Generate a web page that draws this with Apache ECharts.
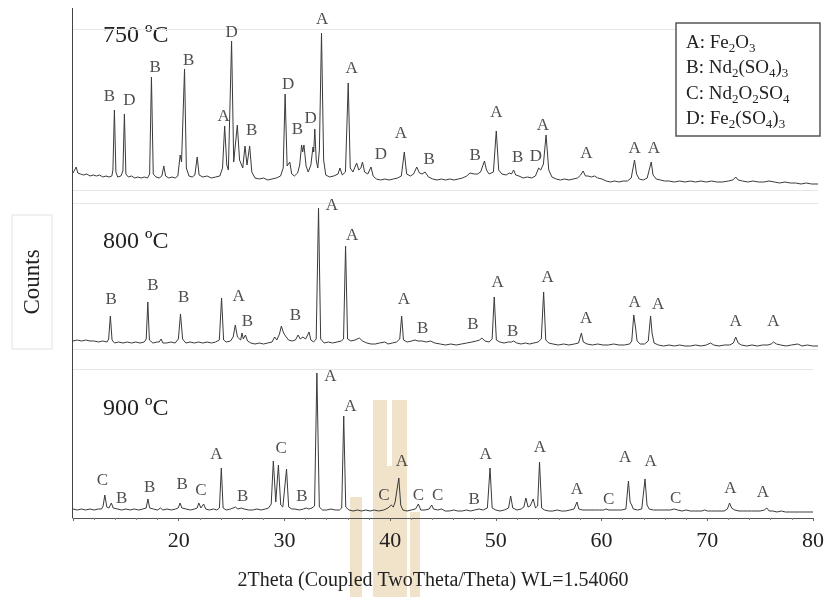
<!DOCTYPE html>
<html>
<head>
<meta charset="utf-8">
<script src="https://cdn.jsdelivr.net/npm/echarts@6/dist/echarts.min.js"></script>
<style>html,body{margin:0;padding:0;background:#fff}#xrd{width:827px;height:597px}</style>
</head>
<body>
<div id="xrd"></div>
<script>
// XRD patterns, [2theta, counts above panel floor]
const p750 = [[10.0,17],[10.15,16],[10.3,23],[10.45,17],[10.7,16],[11.0,15],[11.3,16],[11.6,14],[11.9,15],[12.2,14],[12.5,15],[12.8,13],[13.1,14],[13.4,13],[13.65,14],
[13.75,20],[13.89,80],[14.03,18],[14.2,13],[14.5,14],[14.69,19],[14.83,76],[14.97,16],[15.2,13],[15.5,14],[15.8,12],[16.1,13],[16.4,12],[16.7,13],[17.0,12],[17.2,16],[17.37,113],[17.54,16],[17.8,13],[18.1,12],[18.35,14],[18.53,24],[18.7,14],[19.0,12],[19.3,13],[19.6,12],[19.85,14],[20.07,35],[20.2,28],[20.48,121],[20.65,22],[20.9,14],[21.2,13],[21.45,15],[21.67,33],[21.85,15],[22.2,13],[22.6,14],[23.0,12],[23.4,13],[23.8,14],[24.05,22],[24.25,64],[24.45,25],[24.6,20],[24.9,149],[25.1,28],[25.2,30],[25.44,65],[25.65,30],[25.8,26],[25.95,22],[26.16,44],[26.35,25],[26.6,44],[26.8,18],[27.1,12],[27.5,11],[27.9,12],[28.3,10],[28.7,11],[29.1,12],[29.5,14],[29.75,22],[29.93,96],[30.12,24],[30.37,28],[30.55,16],[30.8,14],[31.1,17],[31.3,25],[31.48,45],[31.58,38],[31.7,45],[31.9,24],[32.1,18],[32.35,25],[32.55,43],[32.62,38],[32.72,61],[32.85,30],[33.0,22],[33.15,40],[33.35,157],[33.55,30],[33.75,15],[34.1,13],[34.5,14],[34.9,16],[35.08,22],[35.3,15],[35.6,18],[35.86,107],[36.05,22],[36.3,18],[36.65,27],[36.85,20],[37.05,22],[37.2,28],[37.4,18],[37.7,16],[38.0,23],[38.2,14],[38.5,11],[38.9,10],[39.3,11],[39.7,10],[40.1,11],[40.5,12],[40.85,14],[41.13,38],[41.35,16],[41.7,14],[42.0,16],[42.3,23],[42.55,17],[42.8,16],[43.08,18],[43.4,13],[43.8,11],[44.2,10],[44.6,11],[45.0,10],[45.4,11],[45.8,10],[46.2,11],[46.6,12],[47.0,14],[47.3,17],[47.48,19],[47.7,16],[48.0,16],[48.3,18],[48.66,29],[48.85,20],[49.1,16],[49.5,18],[49.77,59],[50.0,20],[50.3,16],[50.7,15],[51.0,17],[51.2,16],[51.4,20],[51.6,15],[51.9,14],[52.3,12],[52.7,13],[53.1,12],[53.45,14],[53.75,22],[53.95,20],[54.2,26],[54.45,55],[54.7,20],[55.0,13],[55.4,11],[55.8,10],[56.2,11],[56.6,10],[57.0,11],[57.4,12],[57.7,15],[57.93,19],[58.15,14],[58.4,14],[58.7,13],[59.0,14],[59.3,12],[59.7,11],[60.1,9],[60.5,8],[60.9,9],[61.3,8],[61.7,9],[62.1,9],[62.45,12],[62.76,30],[62.95,16],[63.2,11],[63.6,10],[63.95,12],[64.33,28],[64.5,15],[64.8,11],[65.2,10],[65.6,9],[66.0,9],[66.5,8],[67.0,9],[67.5,8],[68.0,9],[68.5,8],[69.0,9],[69.5,8],[70.0,9],[70.5,8],[71.0,8],[71.6,9],[72.0,10],[72.27,13],[72.5,10],[72.9,9],[73.4,8],[73.9,9],[74.4,8],[74.9,8],[75.4,9],[75.9,8],[76.4,7],[76.9,8],[77.4,7],[77.9,7],[78.4,6],[78.9,7],[79.4,6],[80.0,6]];

const p800 = [[10.0,8],[10.4,9],[10.8,8],[11.2,9],[11.6,8],[12.0,8],[12.4,7],[12.8,8],[12.95,9],[13.2,7],[13.35,10],[13.51,33],[13.67,9],[13.9,6],[14.3,7],[14.7,6],[15.1,7],[15.5,6],[15.9,7],[16.3,6],[16.7,7],[16.88,10],[17.03,47],[17.18,9],[17.5,6],[17.9,7],[18.1,7],[18.28,10],[18.45,6],[18.8,6],[19.2,7],[19.6,6],[19.9,10],[20.1,35],[20.3,10],[20.6,6],[21.0,7],[21.4,6],[21.8,7],[22.2,6],[22.6,7],[23.0,6],[23.4,7],[23.75,9],[23.96,51],[24.15,9],[24.4,7],[24.8,8],[25.05,12],[25.25,24],[25.45,12],[25.6,10],[25.75,9],[25.88,16],[26.0,10],[26.2,14],[26.4,8],[26.7,6],[27.1,5],[27.5,6],[27.9,5],[28.3,6],[28.7,7],[28.95,12],[29.15,9],[29.4,15],[29.58,23],[29.75,17],[29.9,14],[30.05,12],[30.25,9],[30.6,8],[30.9,9],[31.15,14],[31.35,10],[31.6,12],[31.85,10],[32.0,13],[32.18,17],[32.35,9],[32.6,7],[32.85,10],[33.07,141],[33.27,10],[33.6,6],[34.0,7],[34.4,6],[34.8,7],[35.2,8],[35.42,10],[35.61,103],[35.8,10],[36.1,8],[36.5,9],[36.9,11],[37.2,8],[37.6,6],[38.0,5],[38.4,5],[38.8,6],[39.3,7],[39.6,5],[40.0,6],[40.4,7],[40.7,10],[40.88,33],[41.05,9],[41.4,7],[41.8,8],[42.14,9],[42.4,8],[42.8,8],[43.2,7],[43.6,8],[44.0,6],[44.5,5],[45.0,4],[45.5,5],[46.0,4],[46.5,5],[47.0,6],[47.48,7],[47.9,8],[48.2,9],[48.42,11],[48.7,8],[49.1,7],[49.38,10],[49.58,52],[49.78,9],[50.1,7],[50.5,6],[50.9,7],[51.2,7],[51.4,8],[51.7,6],[52.1,5],[52.5,6],[52.9,5],[53.3,6],[53.7,7],[54.0,10],[54.22,57],[54.42,9],[54.7,6],[55.1,5],[55.6,4],[56.1,5],[56.6,4],[57.1,5],[57.5,6],[57.77,16],[57.95,7],[58.3,5],[58.8,4],[59.3,5],[59.8,4],[60.3,4],[60.8,5],[61.3,4],[61.8,4],[62.3,5],[62.5,8],[62.69,34],[62.85,22],[63.0,8],[63.3,5],[63.7,5],[64.05,8],[64.27,33],[64.42,15],[64.6,6],[65.0,4],[65.5,3],[66.0,4],[66.5,3],[67.0,4],[67.5,3],[68.0,3],[68.5,4],[69.0,3],[69.5,4],[69.9,6],[70.2,4],[70.7,3],[71.2,4],[71.7,4],[72.05,6],[72.27,12],[72.5,6],[72.8,4],[73.3,3],[73.8,4],[74.3,3],[74.8,4],[75.3,4],[75.6,5],[75.82,7],[76.1,5],[76.5,4],[77.0,3],[77.5,4],[78.1,5],[78.5,3],[79.0,4],[79.5,3],[80.0,3]];

const p900 = [[10.0,9],[10.4,8],[10.8,9],[11.2,8],[11.6,9],[12.0,8],[12.4,9],[12.7,9],[12.85,12],[13.01,23],[13.2,11],[13.4,10],[13.63,15],[13.8,10],[14.2,9],[14.6,8],[15.0,9],[15.4,8],[15.8,9],[16.2,8],[16.6,9],[16.92,10],[17.09,19],[17.25,10],[17.6,9],[18.0,8],[18.28,10],[18.5,8],[18.9,9],[19.3,8],[19.7,9],[19.95,10],[20.13,15],[20.3,10],[20.7,9],[21.1,8],[21.5,9],[21.75,10],[21.9,15],[22.1,10],[22.36,14],[22.55,9],[22.9,8],[23.3,9],[23.6,8],[23.85,10],[24.03,50],[24.2,10],[24.5,8],[24.9,9],[25.15,10],[25.35,11],[25.6,9],[25.91,10],[26.2,9],[26.6,8],[27.0,8],[27.4,9],[27.8,8],[28.2,9],[28.5,10],[28.75,14],[28.95,57],[29.18,16],[29.43,53],[29.65,13],[29.85,11],[30.2,49],[30.4,11],[30.7,9],[31.0,9],[31.4,8],[31.8,9],[32.06,10],[32.3,9],[32.6,10],[32.85,12],[33.07,145],[33.3,11],[33.6,8],[34.0,8],[34.4,9],[34.8,8],[35.2,8],[35.42,10],[35.61,102],[35.8,11],[36.1,8],[36.5,7],[36.9,8],[37.3,7],[37.7,8],[38.1,7],[38.5,8],[38.9,7],[39.4,8],[39.8,10],[40.1,13],[40.3,11],[40.47,16],[40.65,14],[40.82,40],[41.0,13],[41.2,8],[41.6,7],[42.0,8],[42.4,9],[42.67,14],[42.9,8],[43.3,8],[43.7,9],[43.93,13],[44.1,9],[44.5,8],[44.87,9],[45.2,7],[45.6,7],[46.0,8],[46.4,7],[46.8,7],[47.2,8],[47.6,7],[48.0,8],[48.42,9],[48.8,8],[49.2,10],[49.45,50],[49.65,10],[50.0,8],[50.4,7],[50.8,8],[51.2,10],[51.4,22],[51.6,10],[52.0,8],[52.4,9],[52.65,11],[52.84,20],[53.05,11],[53.25,12],[53.53,19],[53.75,10],[53.95,12],[54.13,56],[54.33,10],[54.6,8],[55.0,7],[55.4,7],[55.8,8],[56.2,7],[56.6,7],[57.0,8],[57.4,9],[57.67,16],[57.85,9],[58.2,8],[58.6,8],[59.0,8],[59.4,8],[59.8,8],[60.2,8],[60.43,9],[60.7,8],[61.1,8],[61.5,8],[61.9,8],[62.3,9],[62.54,37],[62.7,16],[62.85,13],[63.0,9],[63.4,8],[63.8,9],[64.11,39],[64.3,13],[64.5,9],[64.9,8],[65.3,8],[65.7,8],[66.1,8],[66.5,8],[66.87,9],[67.2,8],[67.6,7],[68.0,8],[68.4,7],[68.8,7],[69.2,7],[69.5,7],[69.76,8],[70.0,7],[70.4,7],[70.8,7],[71.2,7],[71.6,7],[71.9,9],[72.11,15],[72.3,10],[72.6,8],[73.0,7],[73.4,7],[73.8,7],[74.2,7],[74.6,7],[75.0,7],[75.4,8],[75.63,10],[75.85,7],[76.2,7],[76.6,6],[77.0,7],[77.4,6],[77.9,6],[78.3,6],[78.7,6],[79.1,6],[79.5,6],[80.0,6]];

// phase marks [2theta, height, phase]
const labels750 = [[13.42,93,'B'],[15.30,89,'D'],[17.72,122,'B'],[20.88,129,'B'],[24.15,73,'A'],[24.91,157,'D'],[26.79,59,'B'],[30.21,105,'D'],[31.09,60,'B'],[32.32,71,'D'],[33.41,170,'A'],[36.18,121,'A'],[38.94,35,'D'],[40.82,56,'A'],[43.46,30,'B'],[47.79,34,'B'],[49.77,77,'A'],[51.77,32,'B'],[53.50,33,'D'],[54.16,64,'A'],[58.24,36,'A'],[62.76,41,'A'],[64.58,41,'A']];
const labels800 = [[13.58,49,'B'],[17.50,63,'B'],[20.41,51,'B'],[25.56,52,'A'],[26.38,27,'B'],[30.90,33,'B'],[34.32,143,'A'],[36.23,113,'A'],[41.10,49,'A'],[42.86,20,'B'],[47.57,24,'B'],[49.89,66,'A'],[51.30,17,'B'],[54.59,71,'A'],[58.21,30,'A'],[62.76,46,'A'],[64.99,44,'A'],[72.27,27,'A'],[75.82,27,'A']];
const labels900 = [[12.79,37,'C'],[14.61,19,'B'],[17.25,30,'B'],[20.32,33,'B'],[22.11,27,'C'],[23.56,63,'A'],[26.04,21,'B'],[29.68,69,'C'],[31.66,21,'B'],[34.35,141,'A'],[36.23,111,'A'],[39.41,22,'C'],[41.10,56,'A'],[42.67,22,'C'],[44.49,22,'C'],[47.95,18,'B'],[49.04,63,'A'],[54.16,70,'A'],[57.67,28,'A'],[60.66,18,'C'],[62.22,60,'A'],[64.64,56,'A'],[67.00,19,'C'],[72.18,29,'A'],[75.25,25,'A']];

const temps = ['750 ºC', '800 ºC', '900 ºC'];
const phases = ['A: Fe{s|2}O{s|3}', 'B: Nd{s|2}(SO{s|4}){s|3}', 'C: Nd{s|2}O{s|2}SO{s|4}', 'D: Fe{s|2}(SO{s|4}){s|3}'];
const xTicks = [10, 80, 10];

const serif = 'Liberation Serif';
const panels = [
    { top: 29, height: 161, data: p750, marks: labels750 },
    { top: 203, height: 146, data: p800, marks: labels800 },
    { top: 369, height: 149, data: p900, marks: labels900 }
];
const tempTop = [24, 230, 397];

let myChart = echarts.init(document.getElementById('xrd'));

const grid = [], xAxis = [], yAxis = [], series = [];
panels.forEach((p, i) => {
    grid.push({ left: 73, right: 9, top: p.top, height: p.height });
    const last = i === panels.length - 1;
    xAxis.push({
        type: 'value', gridIndex: i, min: xTicks[0], max: xTicks[1], interval: xTicks[2],
        show: last,
        axisLine: { lineStyle: { color: '#555', width: 1 } },
        axisTick: { show: true, length: 3, lineStyle: { color: '#666' } },
        minorTick: { show: true, splitNumber: 5, length: 2, lineStyle: { color: '#888' } },
        splitLine: { show: false },
        axisLabel: {
            fontFamily: serif, fontSize: 22, color: '#222', margin: 12,
            formatter: v => v === 10 ? '' : v
        },
        name: last ? '2Theta (Coupled TwoTheta/Theta) WL=1.54060' : '',
        nameLocation: 'middle', nameGap: 53,
        nameTextStyle: { fontFamily: serif, fontSize: 20, color: '#222', padding: [0, 20, 0, 0] }
    });
    yAxis.push({
        type: 'value', gridIndex: i, min: 0, max: p.height, interval: p.height,
        axisLine: { show: false }, axisTick: { show: false }, axisLabel: { show: false },
        splitLine: { show: true, lineStyle: { color: '#e6e6e6', width: 1 } }
    });
    series.push({
        type: 'line', xAxisIndex: i, yAxisIndex: i, data: p.data,
        showSymbol: false, clip: false, animation: false,
        lineStyle: { color: '#3a3a3a', width: 1 }
    });
    series.push({
        type: 'scatter', xAxisIndex: i, yAxisIndex: i, data: p.marks,
        symbolSize: 0, clip: false, animation: false, silent: true,
        label: {
            show: true, position: 'inside', formatter: d => d.data[2],
            fontFamily: serif, fontSize: 17, color: '#222'
        }
    });
});

// faint watermark behind the bottom pattern
const tan = '#f1e3c9';
const graphic = [
    { type: 'rect', z: -10, shape: { x: 373, y: 400, width: 14, height: 197 }, style: { fill: tan } },
    { type: 'rect', z: -10, shape: { x: 392, y: 400, width: 15, height: 197 }, style: { fill: tan } },
    { type: 'rect', z: -10, shape: { x: 387, y: 466, width: 5, height: 131 }, style: { fill: tan } },
    { type: 'rect', z: -10, shape: { x: 350, y: 497, width: 12, height: 100 }, style: { fill: tan } },
    { type: 'rect', z: -10, shape: { x: 410, y: 512, width: 10, height: 85 }, style: { fill: tan } },
    { type: 'line', shape: { x1: 72.5, y1: 8, x2: 72.5, y2: 518 }, style: { stroke: '#444', lineWidth: 1 } },
    { type: 'rect', shape: { x: 12, y: 215, width: 40, height: 134 }, style: { fill: '#fff', stroke: '#e2e2e2', lineWidth: 1 } },
    { type: 'text', x: 33, y: 282, rotation: Math.PI / 2,
      style: { text: 'Counts', fontFamily: serif, fontSize: 23, fill: '#222', align: 'center', verticalAlign: 'middle' } },
    { type: 'rect', shape: { x: 676, y: 23, width: 144, height: 113 }, style: { fill: '#fff', stroke: '#555', lineWidth: 1.5 }, z: 10 }
];
temps.forEach((t, i) => {
    graphic.push({ type: 'text', left: 103, top: tempTop[i],
        style: { text: t, fontFamily: serif, fontSize: 24, fill: '#222' } });
});
phases.forEach((t, i) => {
    graphic.push({ type: 'text', x: 686, y: 43 + i * 25.3, z: 11,
        style: {
            text: t, fontFamily: serif, fontSize: 19, lineHeight: 24, fill: '#222',
            verticalAlign: 'middle',
            rich: { s: { fontFamily: serif, fontSize: 13, lineHeight: 13, verticalAlign: 'bottom', fill: '#222' } }
        } });
});

option = {
    backgroundColor: '#fff',
    animation: false,
    grid: grid,
    xAxis: xAxis,
    yAxis: yAxis,
    series: series,
    graphic: graphic
};

myChart.setOption(option);
</script>
</body>
</html>
